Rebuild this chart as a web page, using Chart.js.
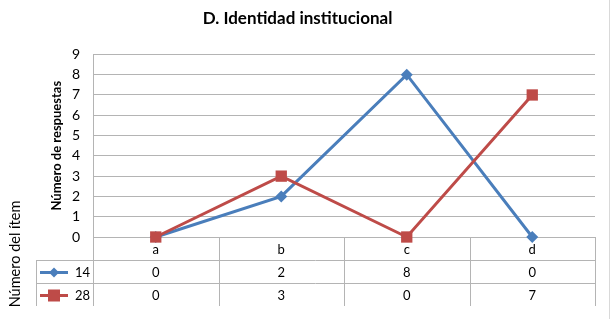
<!DOCTYPE html>
<html>
<head>
<meta charset="utf-8">
<script src="https://cdn.jsdelivr.net/npm/chart.js@4"></script>
<style>
  html, body { margin: 0; padding: 0; background: #fff; }
  #wrap { width: 614px; height: 319px; }
</style>
</head>
<body>
<div id="wrap"><canvas id="chart" width="614" height="319"></canvas></div>
<script>
// data
const categories = ['a', 'b', 'c', 'd'];
const seriesNames = ['14', '28'];
const values14 = [0, 2, 8, 0];
const values28 = [0, 3, 0, 7];
const yTicks = [0, 1, 2, 3, 4, 5, 6, 7, 8, 9];

const blue = '#4a7ebb';
const red = '#be4b48';
const gridColor = '#b4b4b4';
const fontFamily = 'Lato, "Open Sans", sans-serif';

// draws the data table under the plot (category row + one row per series)
const dataTable = {
    id: 'dataTable',
    beforeDatasetsDraw(chart) {
        const ctx = chart.ctx;
        const x = chart.scales.x;
        const area = chart.chartArea;
        const rowH = 23;
        const top = area.bottom;
        const legendLeft = 36;
        const step = x.getPixelForValue(1) - x.getPixelForValue(0);
        const rows = [
            { name: seriesNames[0], data: values14, color: blue, marker: 'diamond' },
            { name: seriesNames[1], data: values28, color: red, marker: 'square' }
        ];

        ctx.save();
        ctx.strokeStyle = gridColor;
        ctx.lineWidth = 1;

        // horizontal lines
        ctx.beginPath();
        ctx.moveTo(area.left, top + 0.5);
        ctx.lineTo(area.right, top + 0.5);
        for (let r = 1; r <= rows.length; r++) {
            const y = Math.round(top + r * rowH) + 0.5;
            ctx.moveTo(legendLeft, y);
            ctx.lineTo(area.right, y);
        }
        // vertical lines
        for (let i = 0; i <= categories.length; i++) {
            const xx = Math.round(x.getPixelForValue(0) - step / 2 + i * step) + 0.5;
            ctx.moveTo(xx, top);
            ctx.lineTo(xx, top + rowH * (rows.length + 1));
        }
        ctx.moveTo(legendLeft + 0.5, top + rowH);
        ctx.lineTo(legendLeft + 0.5, top + rowH * (rows.length + 1));
        ctx.stroke();

        // outer chart border on the right
        ctx.beginPath();
        ctx.strokeStyle = '#d9d9d9';
        ctx.moveTo(609.5, 0);
        ctx.lineTo(609.5, chart.height);
        ctx.stroke();

        ctx.fillStyle = '#000';
        ctx.font = '13px ' + fontFamily;
        ctx.textAlign = 'center';
        ctx.textBaseline = 'middle';
        categories.forEach((c, i) => {
            ctx.fillText(c, x.getPixelForValue(i), top + rowH / 2 + 1);
        });

        rows.forEach((row, r) => {
            const cy = top + rowH * (r + 1) + rowH / 2 + 1;
            ctx.fillStyle = '#000';
            ctx.textAlign = 'center';
            row.data.forEach((v, i) => {
                ctx.fillText(String(v), x.getPixelForValue(i), cy);
            });
            ctx.textAlign = 'right';
            ctx.fillText(row.name, area.left - 3, cy);

            // legend key
            ctx.strokeStyle = row.color;
            ctx.lineWidth = 3;
            ctx.beginPath();
            ctx.moveTo(legendLeft + 4, cy);
            ctx.lineTo(legendLeft + 32, cy);
            ctx.stroke();
            ctx.fillStyle = row.color;
            const mx = legendLeft + 18;
            if (row.marker === 'diamond') {
                ctx.beginPath();
                ctx.moveTo(mx, cy - 5);
                ctx.lineTo(mx + 5, cy);
                ctx.lineTo(mx, cy + 5);
                ctx.lineTo(mx - 5, cy);
                ctx.closePath();
                ctx.fill();
            } else {
                ctx.fillRect(mx - 6, cy - 6, 12, 12);
            }
        });

        // axis title for the table rows
        ctx.save();
        ctx.translate(15, 254);
        ctx.rotate(-Math.PI / 2);
        ctx.fillStyle = '#000';
        ctx.textAlign = 'center';
        ctx.font = '14.5px ' + fontFamily;
        ctx.fillText('Número del ítem', 0, 0);
        ctx.restore();

        ctx.restore();
    }
};

new Chart(document.getElementById('chart'), {
    type: 'line',
    data: {
        labels: categories,
        datasets: [
            {
                label: seriesNames[0],
                data: values14,
                borderColor: blue,
                backgroundColor: blue,
                borderWidth: 3,
                pointStyle: 'rectRot',
                pointRadius: 6,
                pointBorderWidth: 0,
                tension: 0,
                clip: false,
                order: 1
            },
            {
                label: seriesNames[1],
                data: values28,
                borderColor: red,
                backgroundColor: red,
                borderWidth: 3,
                pointStyle: 'rect',
                pointRadius: 8,
                pointBorderWidth: 0,
                tension: 0,
                clip: false,
                order: 0
            }
        ]
    },
    options: {
        responsive: false,
        animation: false,
        layout: { padding: { left: 0, right: 19, top: 0, bottom: 0 } },
        plugins: {
            legend: { display: false },
            tooltip: { enabled: false },
            title: {
                display: true,
                text: 'D. Identidad institucional',
                color: '#000',
                font: { family: fontFamily, size: 17, weight: 'bold' },
                padding: { top: 8, bottom: 26 }
            }
        },
        scales: {
            x: {
                type: 'category',
                offset: true,
                grid: { display: false },
                border: { display: false },
                ticks: { display: false },
                afterFit(scale) { scale.height = 82; }
            },
            y: {
                min: 0,
                max: 9,
                afterBuildTicks(scale) { scale.ticks = yTicks.map(v => ({ value: v })); },
                ticks: {
                    color: '#000',
                    padding: 13,
                    font: { family: fontFamily, size: 14 }
                },
                grid: { color: gridColor, drawTicks: false },
                border: { color: gridColor },
                title: {
                    display: true,
                    text: 'Número de respuestas',
                    color: '#000',
                    font: { family: fontFamily, size: 13, weight: 'bold' },
                    padding: { top: 49, bottom: 0 }
                },
                afterFit(scale) { scale.width = 93; }
            }
        }
    },
    plugins: [dataTable]
});
</script>
</body>
</html>
